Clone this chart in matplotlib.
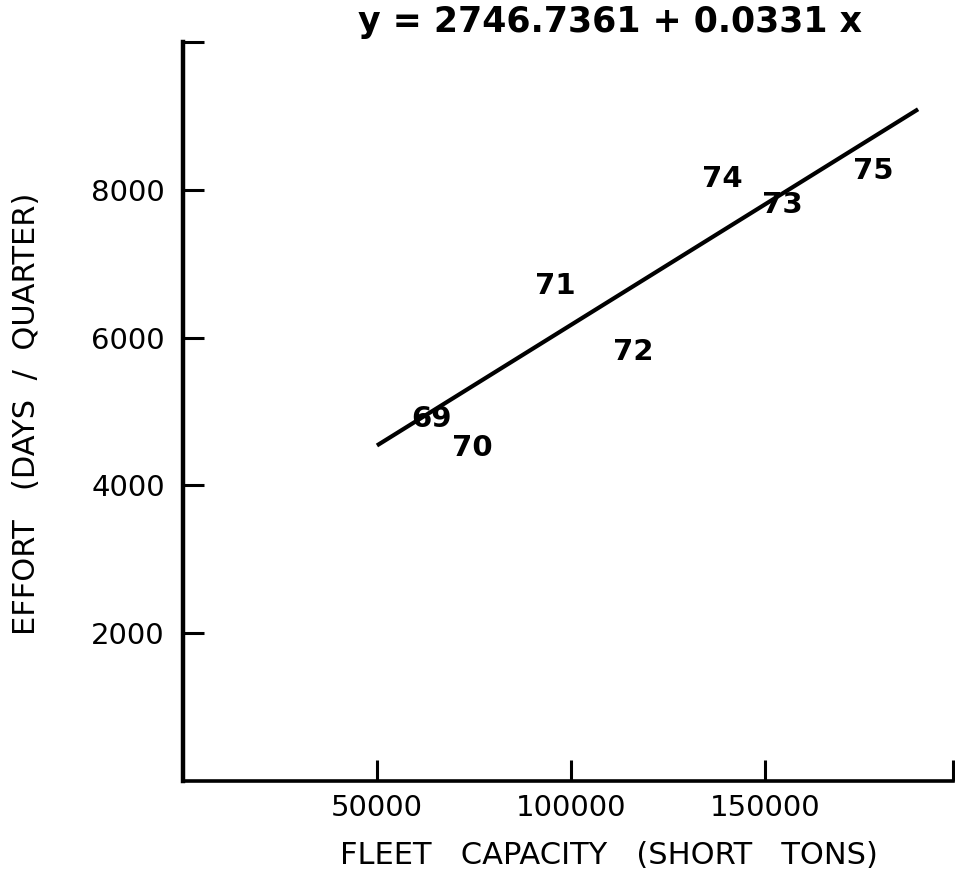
import matplotlib
matplotlib.use("Agg")
import matplotlib.pyplot as plt

# Data
years = ["69", "70", "71", "72", "73", "74", "75"]
capacity = [64000, 74500, 96000, 116000, 154500, 139000, 178000]
effort = [4900, 4500, 6700, 5800, 7800, 8150, 8250]

line_x = [50000, 189500]
line_y = [4540, 9090]

x_ticks = [50000, 100000, 150000]
x_tick_labels = ["50000", "100000", "150000"]
y_ticks = [2000, 4000, 6000, 8000]
y_tick_labels = ["2000", "4000", "6000", "8000"]

title = "y = 2746.7361 + 0.0331 x"
xlabel = "FLEET   CAPACITY   (SHORT   TONS)"
ylabel = "EFFORT   (DAYS  /  QUARTER)"

W, H = 955, 873
fig = plt.figure(figsize=(W / 100, H / 100), dpi=100)
ax = fig.add_axes([183 / W, (H - 781) / H, (953 - 183) / W, (781 - 42) / H])

xmax, ymax = 198500, 10000
ax.set_xlim(0, xmax)
ax.set_ylim(0, ymax)

ax.plot(line_x, line_y, color="black", lw=3.0, solid_capstyle="butt")

for lab, x, y in zip(years, capacity, effort):
    ax.text(x, y, lab, ha="center", va="center", fontsize=21,
            fontweight="bold", family="DejaVu Sans", color="black")

for s in ["top", "right"]:
    ax.spines[s].set_visible(False)
ax.spines["left"].set_linewidth(3.2)
ax.spines["bottom"].set_linewidth(2.6)

ax.set_xticks(x_ticks + [xmax])
ax.set_xticklabels(x_tick_labels + [""])
ax.set_yticks(y_ticks + [ymax])
ax.set_yticklabels(y_tick_labels + [""])

ax.tick_params(axis="both", direction="in", length=15, width=2.2, color="black",
               labelsize=21)
ax.tick_params(axis="x", pad=9)
ax.tick_params(axis="y", pad=13)

fig.text(609 / W, 1 - 855 / H, xlabel, ha="center", va="center", fontsize=22)
fig.text(27 / W, 1 - 414 / H, ylabel, ha="center", va="center", fontsize=22,
         rotation=90)
fig.text(610 / W, 1 - 22 / H, title, ha="center", va="center", fontsize=25,
         fontweight="bold")

fig.savefig("out.png", dpi=100, facecolor="white")
